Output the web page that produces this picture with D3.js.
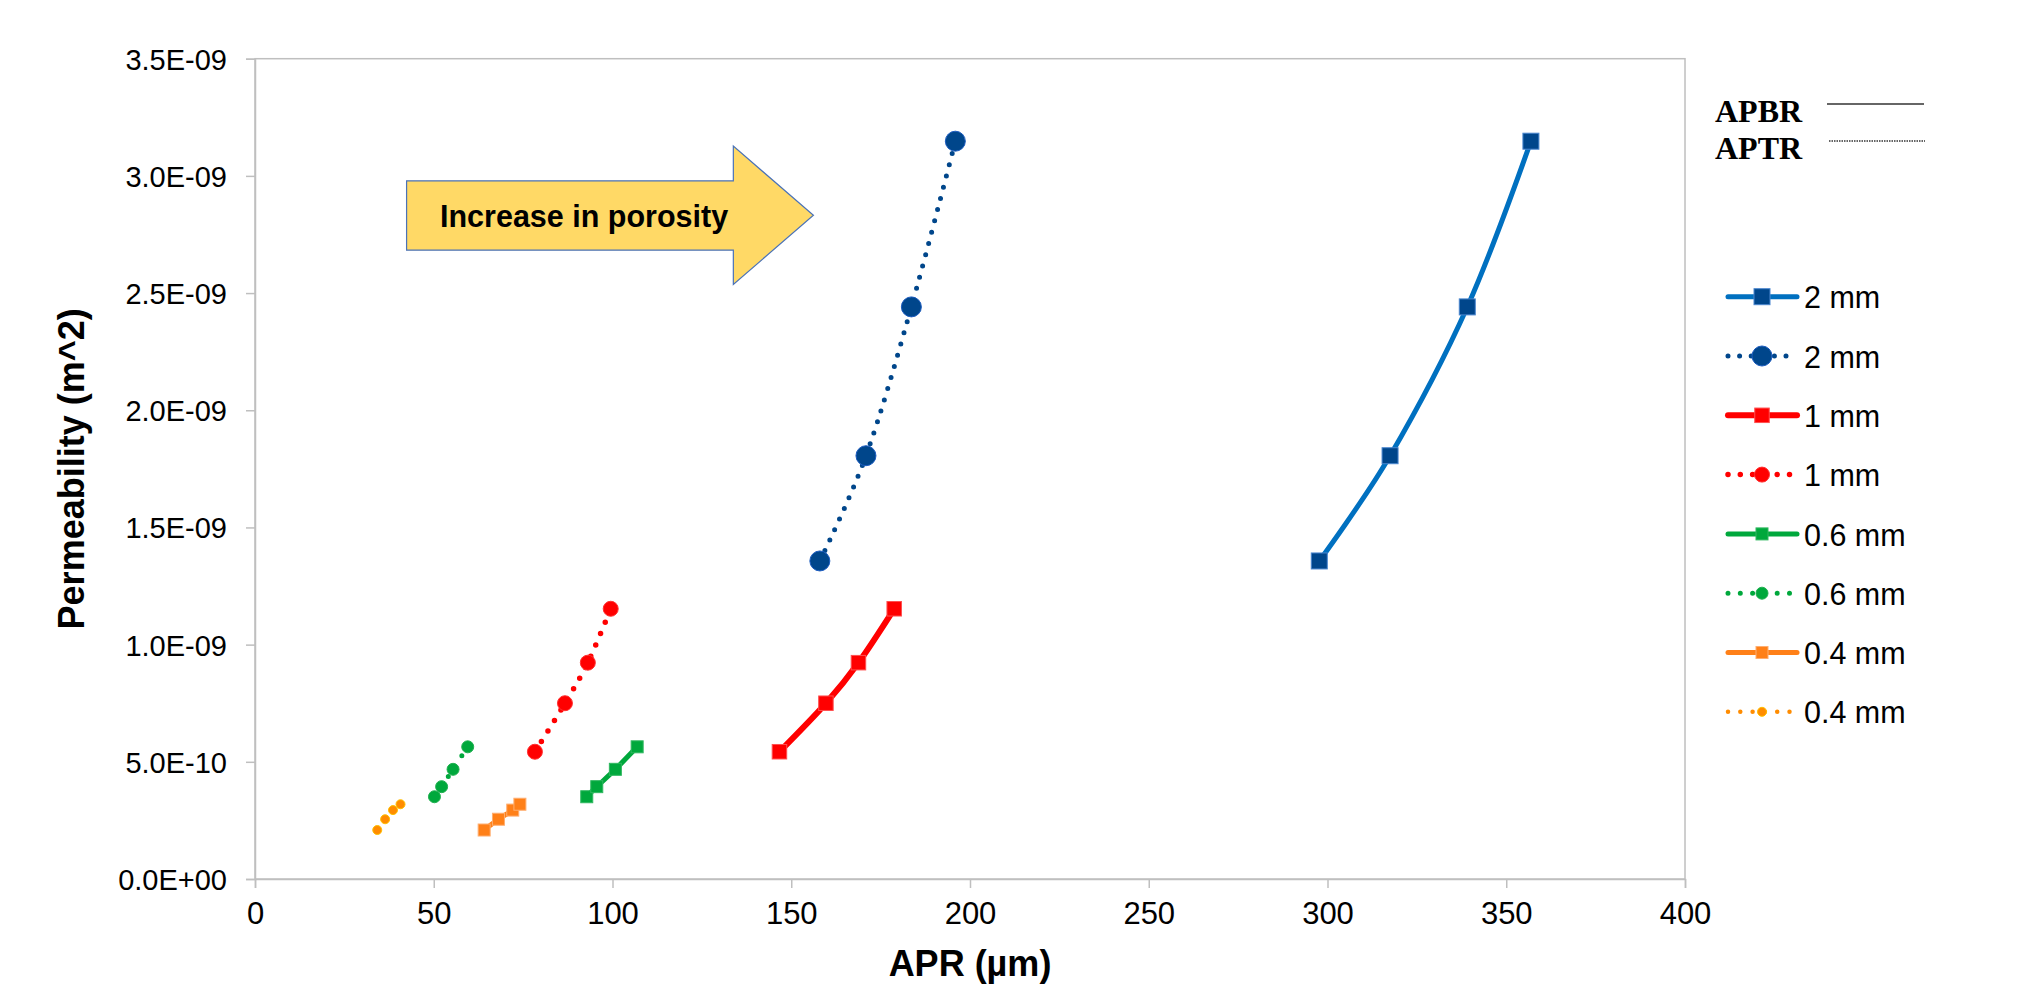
<!DOCTYPE html>
<html>
<head>
<meta charset="utf-8">
<script src="https://cdnjs.cloudflare.com/ajax/libs/d3/7.8.5/d3.min.js"></script>
<style>
    body { margin: 0; background: #fff; }
    svg { display: block; }
</style>
</head>
<body>
<svg id="chart" width="2020" height="988"></svg>
<script>
// Permeability (m^2) per filament diameter, same for both APR measures
const perm_2mm = [1.357e-9, 1.806e-9, 2.441e-9, 3.148e-9];
const perm_1mm = [0.543e-9, 0.750e-9, 0.923e-9, 1.153e-9];
const perm_06mm = [0.351e-9, 0.394e-9, 0.468e-9, 0.564e-9];
const perm_04mm = [0.209e-9, 0.255e-9, 0.294e-9, 0.319e-9];

// APR (µm), APBR = solid lines, APTR = dotted lines
const apbr_2mm = [297.7, 317.5, 339.1, 356.9];
const aptr_2mm = [158.0, 170.9, 183.6, 195.9];
const apbr_1mm = [146.7, 159.7, 168.8, 178.8];
const aptr_1mm = [78.3, 86.7, 93.1, 99.5];
const apbr_06mm = [92.8, 95.6, 100.8, 106.9];
const aptr_06mm = [50.2, 52.2, 55.4, 59.5];
const apbr_04mm = [64.1, 68.1, 72.1, 74.1];
const aptr_04mm = [34.2, 36.4, 38.6, 40.7];

const seriesNames = ['2 mm', '2 mm', '1 mm', '1 mm', '0.6 mm', '0.6 mm', '0.4 mm', '0.4 mm'];
const xTicks = [0, 50, 100, 150, 200, 250, 300, 350, 400];
const yTicks = [0, 0.5e-9, 1.0e-9, 1.5e-9, 2.0e-9, 2.5e-9, 3.0e-9, 3.5e-9];

// arrow annotation in data units: [APR, permeability]
const arrowShape = [[42.4, 2.979e-9], [133.8, 2.979e-9], [133.8, 3.127e-9], [156.2, 2.832e-9],
                    [133.8, 2.537e-9], [133.8, 2.683e-9], [42.4, 2.683e-9]];

const series = [
    {name: seriesNames[0], x: apbr_2mm, y: perm_2mm, line: '#0070C0', dotted: false, width: 5,
        marker: 'square', size: 16, fill: '#00468B', stroke: '#4a86cf'},
    {name: seriesNames[1], x: aptr_2mm, y: perm_2mm, line: '#00468B', dotted: true, width: 5, gap: 11.6,
        marker: 'circle', size: 20, fill: '#00468B', stroke: '#1c5cc0'},
    {name: seriesNames[2], x: apbr_1mm, y: perm_1mm, line: '#FF0000', dotted: false, width: 6,
        marker: 'square', size: 14.5, fill: '#FF0000', stroke: '#ff5050'},
    {name: seriesNames[3], x: aptr_1mm, y: perm_1mm, line: '#FF0000', dotted: true, width: 5.5, gap: 12.3,
        marker: 'circle', size: 15, fill: '#FF0000', stroke: '#ff3030'},
    {name: seriesNames[4], x: apbr_06mm, y: perm_06mm, line: '#00A83C', dotted: false, width: 5,
        marker: 'square', size: 12, fill: '#00A83C', stroke: '#30b860'},
    {name: seriesNames[5], x: aptr_06mm, y: perm_06mm, line: '#00A83C', dotted: true, width: 5, gap: 12.3,
        marker: 'circle', size: 12, fill: '#00A83C', stroke: '#20b050'},
    {name: seriesNames[6], x: apbr_04mm, y: perm_04mm, line: '#FF8018', dotted: false, width: 5,
        marker: 'square', size: 12, fill: '#FF8018', stroke: '#ffae70'},
    {name: seriesNames[7], x: aptr_04mm, y: perm_04mm, line: '#FF8C00', dotted: true, width: 4.5, gap: 12.3,
        marker: 'circle', size: 9, fill: '#FF8C00', stroke: '#FFC000'}
];

const svg = d3.select('#chart');
const plot = {left: 255, right: 1685, top: 58.7, bottom: 879};

const x = d3.scaleLinear().domain([0, 400]).range([plot.left, plot.right]);
const y = d3.scaleLinear().domain([0, 3.5e-9]).range([plot.bottom, plot.top]);

function sciFormat(v) {
    if (v === 0) return '0.0E+00';
    const parts = v.toExponential(1).split('e');
    const exp = parseInt(parts[1], 10);
    const sign = exp < 0 ? '-' : '+';
    return parts[0] + 'E' + sign + String(Math.abs(exp)).padStart(2, '0');
}

const gridColor = '#BFBFBF';

// plot frame
svg.append('rect')
    .attr('x', plot.left).attr('y', plot.top)
    .attr('width', plot.right - plot.left).attr('height', plot.bottom - plot.top)
    .attr('fill', 'none').attr('stroke', gridColor).attr('stroke-width', 1.5);

// axes
const xAxis = svg.append('g')
    .attr('transform', 'translate(0,' + plot.bottom + ')')
    .call(d3.axisBottom(x).tickValues(xTicks).tickSize(9).tickPadding(14).tickFormat(d3.format('d')));
const yAxis = svg.append('g')
    .attr('transform', 'translate(' + plot.left + ',0)')
    .call(d3.axisLeft(y).tickValues(yTicks).tickSize(9).tickPadding(19).tickFormat(sciFormat));

for (const ax of [xAxis, yAxis]) {
    ax.select('.domain').attr('stroke', gridColor).attr('stroke-width', 1.5);
    ax.selectAll('.tick line').attr('stroke', gridColor).attr('stroke-width', 1.5);
    ax.selectAll('.tick text').attr('fill', '#000').attr('font-family', 'Liberation Sans, Arial, sans-serif');
}
xAxis.selectAll('.tick text').attr('font-size', 31);
yAxis.selectAll('.tick text').attr('font-size', 29).attr('dy', '0.36em');

// axis titles
svg.append('text')
    .attr('x', (plot.left + plot.right) / 2).attr('y', 976)
    .attr('text-anchor', 'middle')
    .attr('font-family', 'Liberation Sans, Arial, sans-serif')
    .attr('font-weight', 'bold').attr('font-size', 36)
    .text('APR (µm)');
svg.append('text')
    .attr('transform', 'translate(84,' + ((plot.top + plot.bottom) / 2) + ') rotate(-90)')
    .attr('text-anchor', 'middle')
    .attr('font-family', 'Liberation Sans, Arial, sans-serif')
    .attr('font-weight', 'bold').attr('font-size', 36)
    .text('Permeability (m^2)');

// arrow annotation
svg.append('polygon')
    .attr('points', arrowShape.map(p => x(p[0]) + ',' + y(p[1])).join(' '))
    .attr('fill', '#FFD966').attr('stroke', '#4A72B8').attr('stroke-width', 1.2);
svg.append('text')
    .attr('x', 440).attr('y', 227)
    .attr('font-family', 'Liberation Sans, Arial, sans-serif')
    .attr('font-weight', 'bold').attr('font-size', 30.5)
    .text('Increase in porosity');

// series lines + markers
const line = d3.line().curve(d3.curveCatmullRom.alpha(0));

function drawMarker(g, s, cx, cy) {
    if (s.marker === 'square') {
        g.append('rect')
            .attr('x', cx - s.size / 2).attr('y', cy - s.size / 2)
            .attr('width', s.size).attr('height', s.size)
            .attr('fill', s.fill).attr('stroke', s.stroke).attr('stroke-width', 1);
    } else {
        g.append('circle')
            .attr('cx', cx).attr('cy', cy).attr('r', s.size / 2)
            .attr('fill', s.fill).attr('stroke', s.stroke).attr('stroke-width', 1);
    }
}

function styleLine(path, s) {
    path.attr('fill', 'none')
        .attr('stroke', s.line)
        .attr('stroke-width', s.width)
        .attr('stroke-linecap', 'round')
        .attr('stroke-linejoin', 'round');
    if (s.dotted) path.attr('stroke-dasharray', '0,' + s.gap);
}

const marks = svg.append('g');
for (const s of series) {
    const pts = s.x.map((v, i) => [x(v), y(s.y[i])]);
    styleLine(marks.append('path').attr('d', line(pts)), s);
    const mg = marks.append('g');
    for (const p of pts) drawMarker(mg, s, p[0], p[1]);
}

// legend: line style key
const keyFont = 'Liberation Serif, Times New Roman, serif';
svg.append('text').attr('x', 1715).attr('y', 121.7)
    .attr('font-family', keyFont).attr('font-weight', 'bold').attr('font-size', 32).text('APBR');
svg.append('text').attr('x', 1715).attr('y', 159.3)
    .attr('font-family', keyFont).attr('font-weight', 'bold').attr('font-size', 32).text('APTR');
svg.append('line').attr('x1', 1827).attr('x2', 1924).attr('y1', 104).attr('y2', 104)
    .attr('stroke', '#333').attr('stroke-width', 1.3);
svg.append('line').attr('x1', 1829).attr('x2', 1925).attr('y1', 141).attr('y2', 141)
    .attr('stroke', '#333').attr('stroke-width', 1.3).attr('stroke-dasharray', '1.5,1');

// legend: series
const legend = svg.append('g');
series.forEach((s, i) => {
    const cy = 296.7 + i * 59.3;
    const item = legend.append('g');
    styleLine(item.append('path').attr('d', 'M1728,' + cy + 'H1797'), s);
    drawMarker(item, s, 1762, cy);
    item.append('text')
        .attr('x', 1804).attr('y', cy + 11.6)
        .attr('font-family', 'Liberation Sans, Arial, sans-serif')
        .attr('font-size', 30.5)
        .text(s.name);
});
</script>
</body>
</html>
